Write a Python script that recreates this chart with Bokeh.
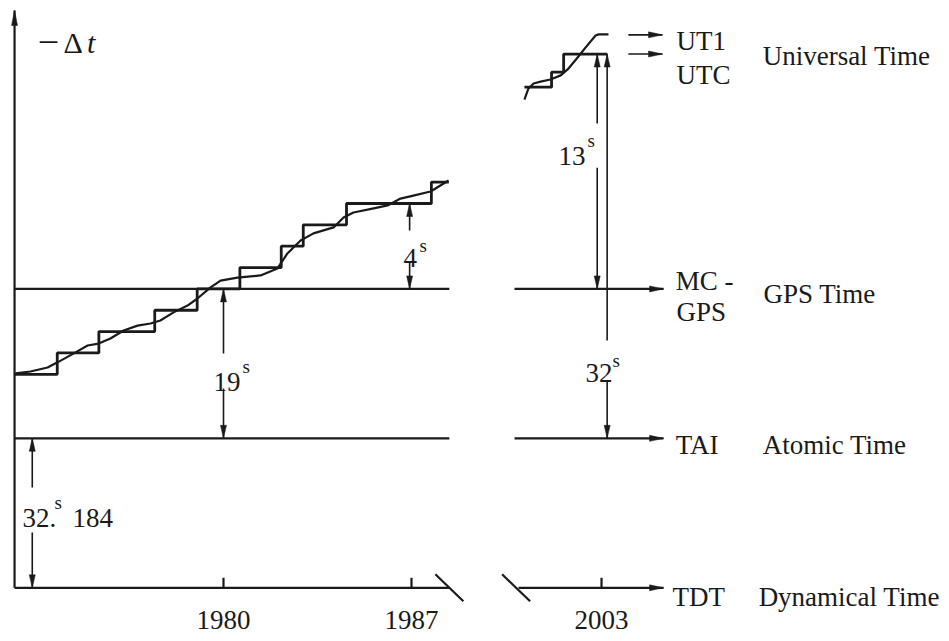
from bokeh.plotting import figure
from bokeh.models import Range1d
from bokeh.core.properties import value
from bokeh.embed import file_html
from bokeh.resources import INLINE

# ---------------- data ----------------
# x: calendar year, y: schematic offset in leap-second steps (GPS time = 0)
UT1_LEVEL = 11.9
UTC_LEVEL = 11.0
GPS_LEVEL = 0.0
TAI_LEVEL = -7.0
TDT_LEVEL = -14.0
AXIS_TOP = 13.04

AXIS_YEAR = 1972.22         # origin of the time axis
LEFT_END_YEAR = 1988.41     # axis break, left side
RIGHT_START_YEAR = 1999.76  # axis break, right side
TDT_RIGHT_START = 1999.91
BREAK_RIGHT_YEAR = 1999.82
RIGHT_END_YEAR = 2005.31    # arrow tips of the time scales
UT_ARROW_START = 2004.0
UT_ARROW_END = 2005.27
BREAK_SHIFT = 8.925         # years cut out by the axis break

# UTC staircase (leap seconds) 1972-1988
utc_years = [1972.22, 1973.81, 1975.36, 1977.44, 1979.02, 1980.61, 1982.15,
             1982.97, 1984.58, 1987.74, 1988.39]
utc_levels = [-4, -3, -2, -1, 0, 1, 2, 3, 4, 5, 5]

# UT1 curve 1972-1988
ut1_years = [1972.26, 1972.81, 1973.45, 1973.82, 1974.41, 1974.94, 1975.35, 1975.79,
             1976.28, 1976.80, 1977.28, 1977.65, 1978.14, 1978.66, 1979.03, 1979.52,
             1979.89, 1980.52, 1981.38, 1982.01, 1982.38, 1982.87, 1983.35, 1984.10,
             1984.47, 1984.84, 1985.59, 1986.11, 1986.59, 1987.07, 1987.71, 1988.38]
ut1_levels = [-3.96, -3.87, -3.68, -3.44, -3.03, -2.65, -2.56, -2.32,
              -1.95, -1.72, -1.62, -1.48, -1.10, -0.78, -0.45, 0.07,
              0.39, 0.53, 0.63, 0.96, 1.66, 2.27, 2.60, 2.88,
              3.34, 3.58, 3.77, 3.91, 4.23, 4.37, 4.56, 5.08]

# recent part (after the axis break)
utc_recent_years = [2000.13, 2001.14, 2001.59, 2003.22]
utc_recent_levels = [9.45, 10.15, 11.0, 11.0]
ut1_recent_years = [2000.13, 2000.28, 2000.47, 2000.73, 2001.10, 2001.48,
                    2001.77, 2002.11, 2002.41, 2002.78, 2002.89, 2003.26]
ut1_recent_levels = [8.87, 9.39, 9.62, 9.71, 9.81, 10.00,
                     10.32, 10.84, 11.31, 11.87, 11.92, 11.92]

tick_years = [1980, 1987, 2003]
tick_labels = ["1980", "1987", "2003"]

# dimension arrows: value label, year, low level, high level
dim_values = ["19", "4", "32.", "13", "32"]
dim_years = [1980.0, 1986.93, 1972.88, 2002.84, 2003.21]
dim_low = [TAI_LEVEL, GPS_LEVEL, TDT_LEVEL, GPS_LEVEL, TAI_LEVEL]
dim_high = [GPS_LEVEL, 4.0, TAI_LEVEL, UTC_LEVEL, UTC_LEVEL]

scale_codes = ["UT1", "UTC", "MC -", "GPS", "TAI", "TDT"]
scale_names = ["Universal Time", "GPS Time", "Atomic Time", "Dynamical Time"]

# ---------------- layout ----------------
W, H = 949, 641
X0, X1 = 1971.697, 2007.032
Y0, Y1 = -16.515, 13.508
SX = W / (X1 - X0)
SY = H / (Y1 - Y0)
INK = "#1a1a1a"
FONT = value("Liberation Serif")


def rx(year):
    """position of a year that lies after the axis break"""
    return year - BREAK_SHIFT if year > 1995 else year


p = figure(width=W, height=H, x_range=Range1d(X0, X1), y_range=Range1d(Y0, Y1),
           x_axis_location=None, y_axis_location=None, output_backend="svg",
           toolbar_location=None, min_border=0)
p.grid.visible = False
p.outline_line_color = None
p.background_fill_color = "white"
p.border_fill_color = "white"

heads_x, heads_y = [], []


def add_head(xt, yt, ux, uy, L=13.0, Wd=3.0):
    bxx = xt - L * ux / SX
    byy = yt - L * uy / SY
    heads_x.append([xt, bxx - Wd * uy / SX, bxx + Wd * uy / SX])
    heads_y.append([yt, byy + Wd * ux / SY, byy - Wd * ux / SY])


main = dict(x0=[], y0=[], x1=[], y1=[])
thin = dict(x0=[], y0=[], x1=[], y1=[])


def seg(store, xa, ya, xb, yb):
    store["x0"].append(xa); store["y0"].append(ya)
    store["x1"].append(xb); store["y1"].append(yb)


# vertical axis
seg(main, AXIS_YEAR, TDT_LEVEL, AXIS_YEAR, AXIS_TOP)
add_head(AXIS_YEAR, AXIS_TOP, 0, 1, L=15)
# horizontal time scales, left part
for lv in (GPS_LEVEL, TAI_LEVEL, TDT_LEVEL):
    seg(main, AXIS_YEAR, lv, LEFT_END_YEAR, lv)
# right part
for lv in (GPS_LEVEL, TAI_LEVEL):
    seg(main, rx(RIGHT_START_YEAR), lv, rx(RIGHT_END_YEAR), lv)
    add_head(rx(RIGHT_END_YEAR), lv, 1, 0, L=14)
seg(main, rx(TDT_RIGHT_START), TDT_LEVEL, rx(RIGHT_END_YEAR), TDT_LEVEL)
add_head(rx(RIGHT_END_YEAR), TDT_LEVEL, 1, 0, L=14)
for lv in (UT1_LEVEL, UTC_LEVEL):
    seg(thin, rx(UT_ARROW_START), lv, rx(UT_ARROW_END), lv)
    add_head(rx(UT_ARROW_END), lv, 1, 0, L=14)
# ticks
for ty in tick_years:
    seg(main, rx(ty), TDT_LEVEL, rx(ty), TDT_LEVEL + 10 / SY)
# break marks
for bxr in (LEFT_END_YEAR, rx(BREAK_RIGHT_YEAR)):
    seg(main, bxr - 14 / SX, TDT_LEVEL + 13.5 / SY, bxr + 14 / SX, TDT_LEVEL - 13.5 / SY)

# dimension arrows (with gap for the label)
dim_gaps = [(-4.66, -3.03), (1.24, 2.74), (-11.41, -9.30), (5.68, 7.75), (-4.29, -2.42)]
for yr, lo, hi, (g0, g1) in zip(dim_years, dim_low, dim_high, dim_gaps):
    x = rx(yr)
    seg(thin, x, lo, x, g0)
    seg(thin, x, g1, x, hi)
    add_head(x, hi, 0, 1)
    add_head(x, lo, 0, -1)

p.segment(x0="x0", y0="y0", x1="x1", y1="y1", source=main, line_width=2.2, line_color=INK)
p.segment(x0="x0", y0="y0", x1="x1", y1="y1", source=thin, line_width=1.6, line_color=INK)
p.patches(heads_x, heads_y, fill_color=INK, line_color=INK, line_width=0.5)

# UTC staircases and UT1 curves
p.step(utc_years, utc_levels, mode="after", line_width=2.8, line_color=INK)
p.line(ut1_years, ut1_levels, line_width=2.2, line_color=INK, line_join="round")
p.step([rx(v) for v in utc_recent_years], utc_recent_levels, mode="after",
       line_width=2.8, line_color=INK)
p.line([rx(v) for v in ut1_recent_years], ut1_recent_levels, line_width=2.2,
       line_color=INK, line_join="round")

# ---------------- texts ----------------
txt = dict(text_font=FONT, text_color=INK, text_baseline="alphabetic")
# axis title  -Δt
p.text(x=[1973.08], y=[11.54], text=["\u2212"], text_font_size="38px", **txt)
p.text(x=[1974.04], y=[11.54], text=["\u0394"], text_font_size="30px", **txt)
p.text(x=[1974.92], y=[11.54], text=["t"], text_font_size="30px",
       text_font_style="italic", **txt)

# tick labels
p.text(x=[rx(t) for t in tick_years], y=[-15.53] * 3, text=tick_labels,
       text_font_size="27px", text_align="center", **txt)

# scale codes and names
code_x = [rx(2005.79), rx(2005.79), rx(2005.76), rx(2005.79), rx(2005.76), rx(2005.64)]
code_y = [11.59, 10.00, 0.39, -1.10, -7.33, -14.45]
p.text(x=code_x, y=code_y, text=scale_codes, text_font_size="27px", **txt)
name_x = [rx(2009.00), rx(2009.03), rx(2009.00), rx(2008.85)]
name_y = [10.89, -0.22, -7.33, -14.45]
p.text(x=name_x, y=name_y, text=scale_names, text_font_size="27px", **txt)

# dimension values with superscript s
val_x = [1979.63, 1986.70, 1972.52, rx(2001.40), rx(2002.40)]
val_y = [-4.38, 1.47, -10.71, 6.24, -3.96]
p.text(x=val_x, y=val_y, text=dim_values, text_font_size="27px", **txt)
sup_x = [1980.71, 1987.30, 1973.71, rx(2002.48), rx(2003.41)]
sup_y = [-3.63, 2.03, -10.01, 6.95, -3.35]
p.text(x=sup_x, y=sup_y, text=["s"] * 5, text_font_size="19px", **txt)
p.text(x=[1974.38], y=[-10.71], text=["184"], text_font_size="27px", **txt)

open("out.html", "w").write(file_html(p, INLINE))
